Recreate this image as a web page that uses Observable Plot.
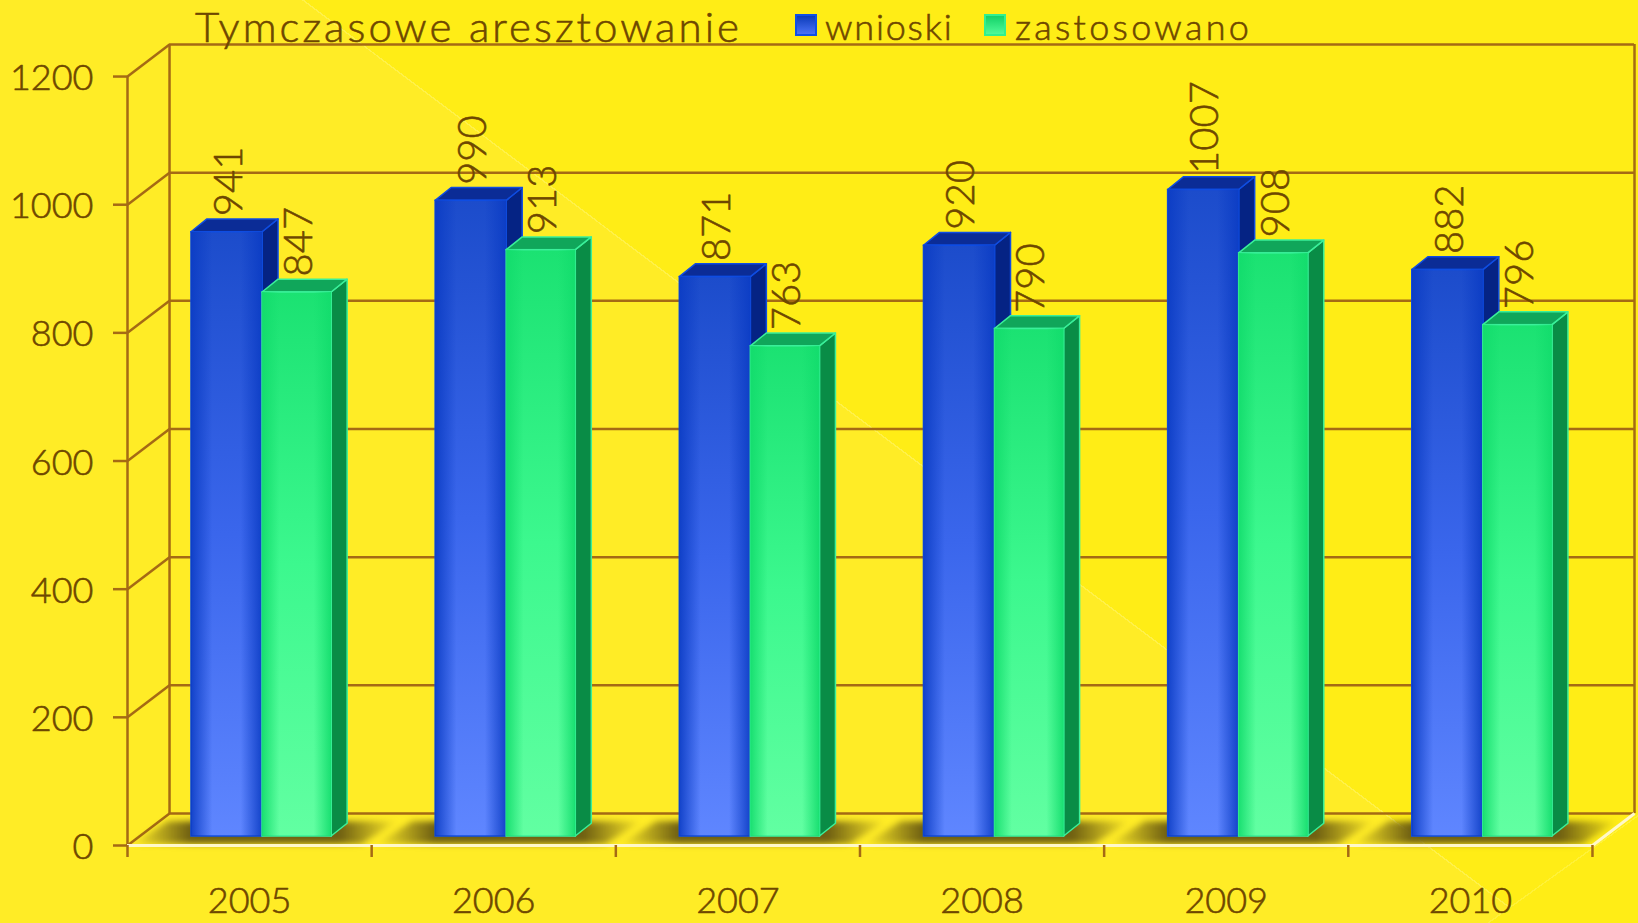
<!DOCTYPE html>
<html lang="pl">
<head>
<meta charset="utf-8">
<title>Tymczasowe aresztowanie</title>
<script src="https://cdn.jsdelivr.net/npm/d3@7"></script>
<script src="https://cdn.jsdelivr.net/npm/@observablehq/plot@0.6"></script>
<style>
html,body{margin:0;padding:0;width:1638px;height:923px;overflow:hidden;}
body{position:relative;font-family:Lato,"Noto Sans",sans-serif;color:#6e4700;
background:
 linear-gradient(144.4deg, rgba(255,237,20,0) 94.84%, rgba(255,243,70,.7) 94.84%, rgba(255,243,70,.7) 94.92%, #ffed16 94.92%),
 linear-gradient(36.95deg, #ffec26 53.36%, #fff14a 53.36%, #fff14a 53.44%, #ffed16 53.44%);}
#chart{position:absolute;left:0;top:0;}
#chart svg{display:block;}
.t{position:absolute;white-space:nowrap;line-height:1;font-weight:300;-webkit-text-stroke:.6px #6e4700;}
.s{position:absolute;width:18px;height:18px;top:14px;border:2px solid;}
</style>
</head>
<body>
<div id="chart"></div>
<div class="t" id="title" style="left:195px;top:5px;font-size:42px;letter-spacing:3.05px">Tymczasowe aresztowanie</div>
<div class="s" style="left:795px;border-color:#0f50e6;background:linear-gradient(#0c3cba,#4a72f5)"></div>
<div class="t" id="l1" style="left:825px;top:8px;font-size:36px;letter-spacing:1.8px">wnioski</div>
<div class="s" style="left:984px;border-color:#30f090;background:linear-gradient(#14d268,#50fa98)"></div>
<div class="t" id="l2" style="left:1015px;top:8px;font-size:36px;letter-spacing:3.3px">zastosowano</div>
<script>
const years = [2005, 2006, 2007, 2008, 2009, 2010];
const wnioski = [941, 990, 871, 920, 1007, 882];
const zastosowano = [847, 913, 763, 790, 908, 796];
const valueTicks = [0, 200, 400, 600, 800, 1000, 1200];

// Depth of the pseudo-3D box, in the units of the x and y scales
const wallX = 42 / 244, wallY = 50;
const barX = 16 / 244, barY = 20;
const baseY = 14, lift = 2;
const slots = [
  {name: "wnioski", values: wnioski, x1: 0.262, x2: 0.553},
  {name: "zastosowano", values: zastosowano, x1: 0.553, x2: 0.836}
];

const bars = slots.map(s => s.values.map((v, i) => ({
  id: s.name + years[i], x1: i + s.x1, x2: i + s.x2, top: v + baseY + lift, value: v
})));
const sidePts = b => b.flatMap(d => [
  {id: d.id, x: d.x2, y1: baseY, y2: d.top},
  {id: d.id, x: d.x2 + barX, y1: baseY + barY, y2: d.top + barY}
]);
const topPts = b => b.flatMap(d => [
  {id: d.id, y: d.top, x1: d.x1, x2: d.x2},
  {id: d.id, y: d.top + barY, x1: d.x1 + barX, x2: d.x2 + barX}
]);
const shadowPts = years.flatMap((y, i) => [
  {id: y, y: 2, x1: i + 0.02, x2: i + 0.96},
  {id: y, y: 37, x1: i + 0.17, x2: i + 1.11}
]);

const ink = "#6e4700", wall = "#a56a14";

function gradient(id, stops, horizontal) {
  const g = d3.create("svg:linearGradient").attr("id", id)
    .attr("x1", 0).attr("y1", 0).attr("x2", horizontal ? 1 : 0).attr("y2", horizontal ? 0 : 1);
  for (const [o, c, a] of stops)
    g.append("stop").attr("offset", o).attr("stop-color", c).attr("stop-opacity", a ?? 1);
  return g.node();
}
const defs = () => {
  const d = d3.create("svg:defs").node();
  d.append(
    gradient("blueV", [[0, "#1c4ccb"], [0.5, "#3a66ec"], [1, "#5f86ff"]]),
    gradient("greenV", [[0, "#1be272"], [0.5, "#3cf88e"], [1, "#62ffa2"]]),
    gradient("blueH", [[0, "#0b3cc4", 0.9], [0.3, "#0b3cc4", 0], [0.7, "#0b3cc4", 0], [1, "#0b3cc4", 0.9]], true),
    gradient("greenH", [[0, "#12dc6c", 0.9], [0.25, "#12dc6c", 0], [0.75, "#12dc6c", 0], [1, "#12dc6c", 0.9]], true),
    gradient("shadow", [[0, "#6f5f12", 0], [0.22, "#6f5f12", 1], [0.78, "#6f5f12", 1], [1, "#6f5f12", 0]], true)
  );
  return d;
};

const faces = (b, c) => [
  Plot.areaY(sidePts(b), {x: "x", y1: "y1", y2: "y2", z: "id", fill: c.side, stroke: c.edge, strokeWidth: 1.5}),
  Plot.areaX(topPts(b), {y: "y", x1: "x1", x2: "x2", z: "id", fill: c.top, stroke: c.edge, strokeWidth: 1.5}),
  Plot.rect(b, {x1: "x1", x2: "x2", y1: baseY, y2: "top", fill: c.v, stroke: c.edge, strokeWidth: 1.5}),
  Plot.rect(b, {x1: "x1", x2: "x2", y1: baseY, y2: "top", fill: c.h})
];
const labels = b => Plot.text(b, {
  x: d => (d.x1 + d.x2) / 2, y: d => d.top + 25, text: d => String(d.value), dx: 2,
  rotate: -90, textAnchor: "start", lineAnchor: "middle", fontSize: 40, fontWeight: 300, fill: ink, stroke: ink, strokeWidth: 0.6
});

const chart = Plot.plot({
  width: 1638, height: 923,
  marginLeft: 127, marginRight: 4, marginTop: 44, marginBottom: 78,
  x: {type: "linear", domain: [0, 6 + wallX]},
  y: {type: "linear", domain: [0, 1200 + wallY]},
  style: {background: "transparent", fontFamily: "Lato, 'Noto Sans', sans-serif"},
  marks: [
    defs,
    // Back wall and left wall
    Plot.ruleY(valueTicks, {y: d => d + wallY, x1: wallX, x2: 6 + wallX, stroke: wall, strokeWidth: 2.5}),
    Plot.link(valueTicks, {x1: 0, y1: d => d, x2: wallX, y2: d => d + wallY, stroke: wall, strokeWidth: 2.5}),
    Plot.ruleX([wallX, 6 + wallX], {x: d => d, y1: wallY, y2: 1200 + wallY, stroke: wall, strokeWidth: 2.5}),
    Plot.ruleX([0], {y1: 0, y2: 1200, stroke: wall, strokeWidth: 2.5}),
    // Floor
    Plot.areaX(shadowPts, {y: "y", x1: "x1", x2: "x2", z: "id", fill: "url(#shadow)", imageFilter: "blur(3px)"}),
    Plot.ruleY([0], {x1: 0, x2: 6, stroke: "#fff8c8", strokeWidth: 3}),
    Plot.link([6], {x1: 6, y1: 0, x2: 6 + wallX, y2: wallY, stroke: "#fff8c8", strokeWidth: 3}),
    // Axes
    Plot.axisY({ticks: valueTicks, tickSize: 14, tickFormat: () => "", label: null, stroke: wall, strokeWidth: 2.5}),
    Plot.axisY({ticks: valueTicks, tickSize: 0, tickPadding: 34, dy: 2, label: null, fontSize: 36, fontWeight: 300, fill: ink, textStroke: ink, textStrokeWidth: 0.6, tickFormat: d => String(d)}),
    Plot.axisX({ticks: years.map((y, i) => i).concat(6), tickSize: 12, tickFormat: () => "", label: null, stroke: wall, strokeWidth: 2.5}),
    Plot.axisX({ticks: years.map((y, i) => i + 0.5), tickSize: 0, tickPadding: 42, label: null, fontSize: 36, fontWeight: 300, fill: ink, textStroke: ink, textStrokeWidth: 0.6, tickFormat: d => String(years[d - 0.5])}),
    // Bars
    ...faces(bars[0], {side: "#052384", top: "#0b2c96", edge: "#0f4de2", v: "url(#blueV)", h: "url(#blueH)"}),
    ...faces(bars[1], {side: "#098c46", top: "#10a65a", edge: "#3af09a", v: "url(#greenV)", h: "url(#greenH)"}),
    labels(bars[0]),
    labels(bars[1])
  ]
});
document.getElementById("chart").append(chart);
</script>
</body>
</html>
